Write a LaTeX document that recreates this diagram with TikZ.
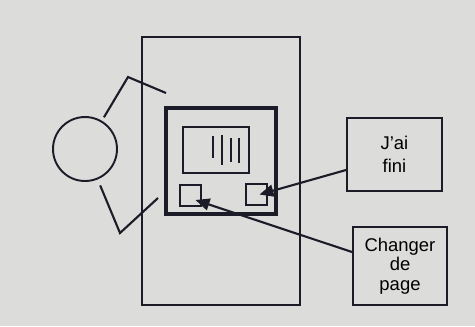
\documentclass[tikz,border=0pt]{standalone}
\usepackage{fontspec}
\setsansfont{Liberation Sans}
\usetikzlibrary{arrows.meta}
\definecolor{paper}{RGB}{220,220,218}
\definecolor{ink}{RGB}{28,28,40}
\begin{document}
\begin{tikzpicture}[x=0.02cm,y=-0.02cm,>={Triangle[length=0.28cm,width=0.24cm]},font=\sffamily,
  box/.style={draw=ink,line width=1.1pt,align=center,inner sep=0pt},
  key/.style={draw=ink,line width=1.1pt,minimum size=0.42cm,inner sep=0pt},
  cord/.style={draw=ink,line width=1.2pt},
  pointer/.style={->,draw=ink,fill=ink,line width=1.2pt}]
\fill[paper] (0,0) rectangle (475,326);
\node[draw=ink,line width=0.9pt,minimum width=3.16cm,minimum height=5.36cm,inner sep=0pt] (casing) at (221,171) {};
\node[draw=ink,line width=2.8pt,minimum width=2.2cm,minimum height=2.12cm,inner sep=0pt] (frame) at (221,161) {};
\node[draw=ink,line width=1.1pt,minimum width=1.32cm,minimum height=0.92cm,inner sep=0pt] (display) at (216,150) {};
\draw[cord] (213,136) -- (213,158);
\draw[cord] (222,135) -- (222,165);
\draw[cord] (231,138) -- (231,162);
\draw[cord] (239,138) -- (239,163);
\node[key] (leftkey) at (190.5,195.5) {};
\node[key] (rightkey) at (256.5,194.5) {};
\node[draw=ink,line width=1.1pt,circle,minimum size=1.28cm,inner sep=0pt] (person) at (85,149) {};
\coordinate (upbend) at (128,77);
\coordinate (upend) at (166,93);
\coordinate (lowbend) at (120,233);
\coordinate (lowend) at (158,198);
\draw[cord,shorten <=0.08cm] (person) -- (upbend) -- (upend);
\draw[cord,shorten <=0.13cm] (person) -- (lowbend) -- (lowend);
\node[box,minimum width=1.9cm,minimum height=1.46cm,font=\sffamily\fontsize{10.5}{13}\selectfont] (finibox) at (394.5,154.5) {J'ai\\fini};
\node[box,minimum width=1.88cm,minimum height=1.56cm,font=\sffamily\fontsize{10.5}{11}\selectfont] (pagebox) at (400,266) {Changer\\de\\page};
\draw[pointer] ([yshift=-0.31cm]finibox.west) -- ([xshift=0.06cm]rightkey.center);
\draw[pointer] ([yshift=0.28cm]pagebox.west) -- ([xshift=0.1cm,yshift=-0.09cm]leftkey.center);
\end{tikzpicture}
\end{document}
